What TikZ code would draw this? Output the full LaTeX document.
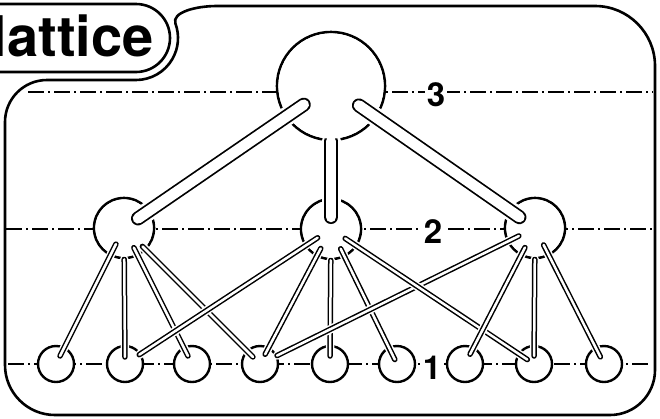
\documentclass[tikz,border=0pt]{standalone}
\usepackage{fontspec}
\newfontfamily\labelfont{TeX Gyre Heros}
\usetikzlibrary{calc}
\newcommand\tube[3]{\draw[#1halo] #2 -- #3; \draw[#1wall] #2 -- #3; \draw[#1core] #2 -- #3;}
\tikzset{
  frameline/.style={line width=2.6pt, line join=round},
  level/.style={line width=1.1pt, dash pattern=on 16pt off 4pt on 2pt off 4pt},
  bignode/.style={circle, draw, fill=white, line width=2.6pt, minimum size=108pt, inner sep=0pt},
  midnode/.style={circle, draw, fill=white, line width=2.6pt, minimum size=60pt, inner sep=0pt},
  smallnode/.style={circle, draw, fill=white, line width=2.4pt, minimum size=36pt, inner sep=0pt},
  digit/.style={font=\labelfont\bfseries\fontsize{33}{33}\selectfont, fill=white, inner sep=1.5pt},
  Thalo/.style={white, line width=19pt, line cap=round},
  Twall/.style={black, line width=14pt, line cap=round},
  Tcore/.style={white, line width=10.5pt, line cap=round},
  thalo/.style={white, line width=8.5pt, line cap=round},
  twall/.style={black, line width=5.5pt, line cap=round},
  tcore/.style={white, line width=2.5pt, line cap=round},
}
\begin{document}
\begin{tikzpicture}[x=1pt,y=-1pt]
\useasboundingbox (0,0) rectangle (660,418);
% frame
\draw[frameline] (217,6) -- (595,6) arc[start angle=-90,end angle=0,radius=60]
  -- (655,370) arc[start angle=0,end angle=90,radius=45]
  -- (55,415) arc[start angle=90,end angle=180,radius=50]
  -- (5,122) arc[start angle=180,end angle=270,radius=42]
  -- (136,80) arc[start angle=90,end angle=-20,radius=42]
  .. controls (171.4,12.3) and (196,6) .. cycle;
% title pill
\draw[frameline] (-60,4) -- (136,4) arc[start angle=-90,end angle=90,radius=34] -- (-60,72);
\node[anchor=base east, inner sep=0pt, font=\labelfont\bfseries\fontsize{56}{56}\selectfont] (title) at (154,56) {lattice};
% level lines
\draw[level] (28,92) -- (653,92);
\draw[level] (6,229) -- (653,229);
\draw[level] (8,364) -- (651,364);
\node[digit] (n3) at (436,95) {3};
\node[digit] (n2) at (433,232) {2};
\node[digit] (n1) at (432,368) {1};
% nodes
\node[bignode] (top) at (331,86) {};
\node[midnode] (l2) at (124,228) {};
\node[midnode] (m2) at (331,229) {};
\node[midnode] (r2) at (535,228) {};
\foreach \x [count=\i] in {56,125,192,260,330,397,465,534,604}
  \node[smallnode] (c\i) at (\x,364) {};
% vertical thin tubes
\tube{t}{(l2)}{($(c2)!7pt!(l2)$)}
\tube{t}{(m2)}{($(c5)!8pt!(m2)$)}
\tube{t}{(r2)}{($(c8)!8pt!(r2)$)}
\foreach \n in {l2,m2,r2} \fill[white] (\n) circle[radius=28.6pt];
% vertical thick tube
\tube{T}{(top)}{($(m2)!12pt!(top)$)}
\fill[white] (top) circle[radius=52.6pt];
% slanted thick tubes
\tube{T}{($(top)!33pt!(l2)$)}{($(l2)!17pt!(top)$)}
\tube{T}{($(top)!34pt!(r2)$)}{($(r2)!19pt!(top)$)}
% slanted thin tubes
\tube{t}{($(l2)!18pt!(c1)$)}{($(c1)!9pt!(l2)$)}
\tube{t}{($(l2)!22pt!(c3)$)}{($(c3)!9pt!(l2)$)}
\tube{t}{($(l2)!26pt!(c4)$)}{($(c4)!10pt!(l2)$)}
\tube{t}{($(m2)!16pt!(c2)$)}{($(c2)!17pt!(m2)$)}
\tube{t}{($(m2)!22pt!(c4)$)}{($(c4)!11pt!(m2)$)}
\tube{t}{($(m2)!22pt!(c6)$)}{($(c6)!5pt!(m2)$)}
\tube{t}{($(r2)!18pt!(c4)$)}{($(c4)!19pt!(r2)$)}
\tube{t}{($(m2)!17pt!(c8)$)}{($(c8)!8pt!(m2)$)}
\tube{t}{($(r2)!22pt!(c7)$)}{($(c7)!11pt!(r2)$)}
\tube{t}{($(r2)!19pt!(c9)$)}{($(c9)!8pt!(r2)$)}
\end{tikzpicture}
\end{document}
